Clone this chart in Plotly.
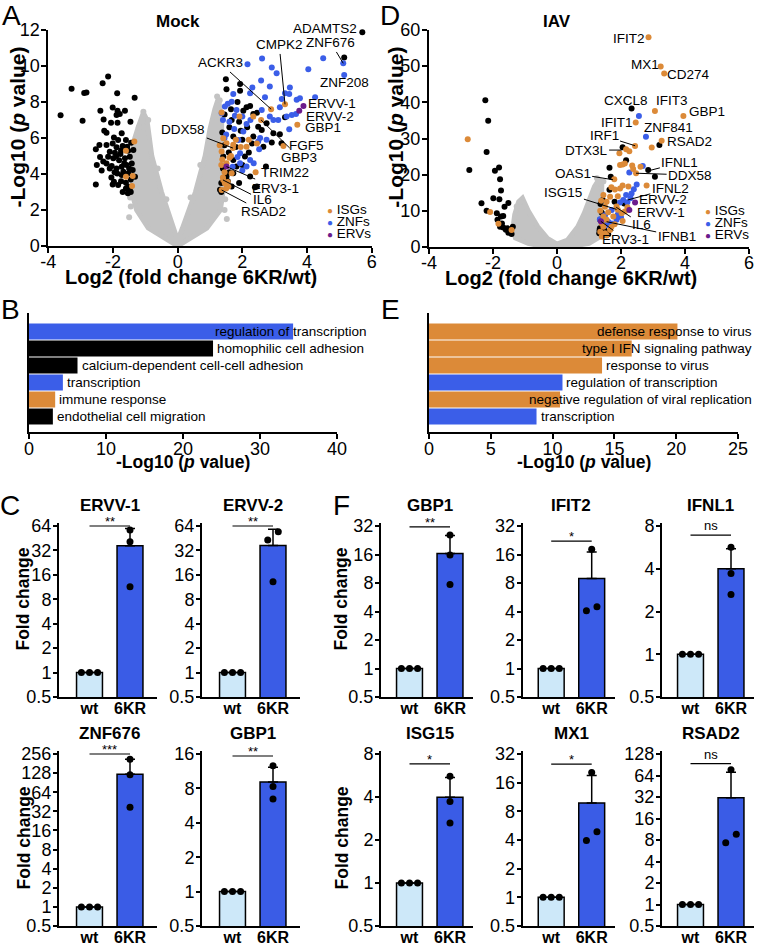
import numpy as np
import plotly.graph_objects as go

W, H = 762, 946
FONT = "Liberation Sans, Arial, Helvetica, sans-serif"
ORANGE = "#dc8a38"
BLUE = "#3b5ee8"
PURPLE = "#6b1b8c"
GRAY = "#c3c3c3"
WT_FILL = "#cde8f9"
KR_FILL = "#3a5ce6"

# ---------- A: volcano plot, Mock ----------
mock_black = [
    (-2.15, 9.41), (-2.32, 9.04), (-3.28, 8.74), (-2.89, 8.50), (-2.82, 8.53), (-1.87, 8.48), (-1.33, 8.24),
    (-3.62, 7.27), (-2.94, 6.96), (-2.39, 7.52), (-2.01, 7.70), (-1.86, 7.52), (-1.79, 7.33), (-1.63, 7.52),
    (-1.89, 7.28), (-2.29, 7.03), (-2.06, 6.85), (-1.86, 6.85), (-1.46, 6.90), (-2.27, 6.40), (-2.20, 6.29),
    (-1.73, 6.26), (-1.97, 6.03), (-1.84, 5.89), (-1.60, 5.89), (-1.44, 5.74), (-2.53, 5.37), (-2.42, 5.61),
    (-2.20, 5.61), (-2.01, 5.70), (-1.89, 5.48), (-1.70, 5.55), (-1.56, 5.52), (-2.10, 5.24), (-1.94, 5.18),
    (-1.77, 5.11), (-1.53, 5.29), (-1.37, 5.33), (-2.15, 4.96), (-1.99, 4.87), (-1.81, 4.77), (-1.63, 4.87),
    (-1.48, 4.96), (-2.20, 4.59), (-2.04, 4.44), (-1.89, 4.31), (-1.73, 4.40), (-1.58, 4.50), (-1.42, 4.59),
    (-1.87, 4.03), (-1.68, 4.13), (-1.53, 4.03), (-1.39, 4.22), (-1.97, 3.57), (-1.84, 3.39), (-2.53, 3.42),
    (-1.60, 3.52), (-1.48, 3.07), (-1.53, 3.29), (-1.73, 3.94), (-1.32, 3.85), (-2.30, 4.70), (-2.10, 4.30),
    (-1.95, 4.10), (-1.65, 4.60), (-1.50, 4.30), (-1.45, 3.70), (-1.75, 3.60), (-2.35, 4.20), (-1.90, 5.00),
    (-1.75, 5.30), (-2.05, 3.80), (-1.60, 3.20), (-1.70, 3.00), (-1.45, 3.00), (-2.50, 4.50), (-2.40, 4.95),
    (-2.01, 3.41), (-1.54, 2.93),
    (5.71, 11.87), (5.15, 10.47), (1.49, 9.26), (1.93, 9.00), (3.32, 7.15), (2.91, 5.75), (3.16, 6.21),
    (2.73, 4.41), (1.93, 8.63), (1.51, 8.71), (2.13, 7.71), (2.03, 7.52), (1.67, 7.00), (2.24, 7.78),
    (2.34, 7.34), (2.49, 6.63), (2.60, 6.45), (2.75, 6.82), (2.65, 5.52), (2.34, 6.08), (2.08, 4.97),
    (1.72, 4.78), (1.41, 4.97), (1.72, 6.08), (1.82, 4.41), (1.51, 3.86), (1.31, 3.12), (1.72, 4.04),
    (1.67, 3.30), (2.24, 3.86), (2.96, 6.26), (2.39, 3.26), (3.21, 5.71), (2.45, 3.30), (1.35, 3.00),
    (1.55, 3.60), (1.45, 5.60), (1.60, 6.60), (1.80, 5.50), (2.00, 5.90), (2.20, 5.20), (1.90, 6.90),
    (1.38, 6.30), (1.58, 5.20), (1.95, 6.40), (2.15, 6.60), (2.30, 5.70), (1.65, 7.60), (1.45, 7.30),
    (1.85, 8.00), (2.45, 7.40), (1.40, 4.30), (1.60, 4.10), (2.00, 4.50), (1.90, 3.50), (1.35, 3.50),
]
mock_znf = [
    (5.12, 10.15), (5.15, 9.50), (4.50, 10.43), (4.04, 9.82), (4.25, 8.26), (2.61, 10.41), (2.16, 10.10),
    (2.91, 9.91), (3.06, 9.60), (2.58, 9.19), (2.85, 8.86), (2.31, 8.80), (3.47, 8.80), (3.32, 8.49),
    (3.45, 8.45), (3.68, 8.12), (3.78, 8.21), (3.22, 8.17), (2.70, 8.26), (2.24, 8.49), (3.16, 7.71),
    (3.37, 7.19), (3.53, 7.28), (3.66, 7.34), (3.45, 6.48), (3.11, 7.00), (2.85, 7.19), (2.96, 7.00),
    (1.67, 8.02), (1.72, 8.45), (1.46, 7.75), (1.36, 7.37), (1.82, 7.56), (1.77, 7.23), (2.13, 6.78),
    (2.03, 6.36), (2.60, 7.56), (2.52, 5.37), (2.49, 5.80), (2.24, 4.78), (1.93, 4.60), (1.88, 5.89),
    (1.93, 5.15), (2.13, 4.41), (1.55, 7.90), (1.40, 7.00), (1.60, 6.90), (1.75, 6.50), (2.00, 7.20),
    (2.25, 7.00), (1.50, 6.20), (1.85, 4.95), (2.35, 4.60), (2.00, 4.20), (1.70, 4.40), (1.45, 6.00),
    (2.55, 6.00), (2.75, 5.90),
]
mock_isg = [
    (-1.34, 5.81), (-1.60, 5.29), (-1.60, 3.85), (-1.39, 3.89), (-1.41, 3.33),
    (3.32, 7.87), (2.89, 7.60), (3.70, 6.73), (3.27, 5.56), (2.58, 7.00), (2.41, 4.10), (1.36, 7.41),
    (1.91, 7.19), (2.34, 7.19), (2.13, 5.52), (1.51, 4.60), (1.36, 5.25), (1.51, 5.71), (1.41, 5.98),
    (1.72, 5.62), (1.67, 4.04), (1.41, 3.67), (1.46, 3.49), (1.57, 3.30), (1.55, 3.55), (1.36, 3.11),
    (1.71, 5.44), (1.38, 4.80), (1.45, 4.10), (1.60, 4.90), (1.80, 5.90), (1.95, 5.50), (1.40, 3.80),
    (1.50, 3.20), (1.35, 4.50), (2.45, 5.70), (2.20, 5.90), (1.30, 5.60), (1.65, 5.00),
]
mock_erv = [(3.89, 7.78), (3.76, 7.52), (1.51, 4.41)]
mock_cloud_x = [0, -0.44, -0.91, -1.27, -1.42, -1.40, -1.36, -1.22, -1.06, -0.95, -0.80, -0.50, -0.15, 0,
                0.15, 0.55, 0.85, 1.00, 1.15, 1.26, 1.36, 1.36, 1.40, 1.32, 0.90, 0.44, 0]
mock_cloud_y = [0, 0.5, 1.0, 2.0, 3.0, 4.5, 5.8, 6.6, 7.4, 7.0, 5.0, 3.0, 1.0, 0.3,
                1.0, 3.0, 5.0, 6.5, 7.6, 8.2, 7.0, 5.0, 3.0, 2.0, 1.0, 0.5, 0]
mock_gray_dots = [(-1.06, 7.46), (-0.91, 7.0), (-1.2, 6.6), (1.22, 8.3), (1.30, 8.1), (-1.45, 2.2),
                  (1.45, 2.0), (-1.5, 1.6), (1.52, 1.5), (-0.62, 4.3), (-0.35, 2.6), (0.40, 2.7),
                  (0.70, 4.5), (-1.47, 2.7), (1.47, 2.6)]
# gene, text x, text y, point x, point y
mock_labels = [
    ("ADAMTS2", 4.55, 12.1, None, None), ("CMPK2", 3.14, 11.17, 3.32, 7.87),
    ("ZNF676", 4.74, 11.28, 5.12, 10.15), ("ACKR3", 1.31, 10.17, 2.89, 7.60),
    ("ZNF208", 5.17, 9.11, None, None), ("ERVV-1", 4.76, 7.89, None, None),
    ("ERVV-2", 4.70, 7.17, None, None), ("GBP1", 4.48, 6.56, None, None),
    ("DDX58", 0.18, 6.5, 1.71, 5.44), ("FGF5", 3.98, 5.61, None, None),
    ("GBP3", 3.75, 4.94, 2.58, 7.00), ("TRIM22", 3.32, 4.06, None, None),
    ("ERV3-1", 3.04, 3.22, 1.51, 4.41), ("IL6", 2.61, 2.56, 1.40, 3.67),
    ("RSAD2", 2.65, 1.89, 1.36, 3.11),
]

# ---------- D: volcano plot, IAV ----------
iav_black = [
    (-2.24, 40.6), (-2.15, 34.9), (-2.20, 26.3), (-2.74, 21.3), (-1.94, 21.1), (-1.81, 22.0), (-1.78, 18.7),
    (-1.75, 15.6), (-1.99, 13.5), (-1.80, 13.2), (-2.36, 12.1), (-1.52, 12.2), (-1.64, 11.1), (-2.20, 10.0),
    (-1.88, 9.3), (-1.75, 8.4), (-1.68, 8.6), (-1.86, 7.5), (-1.78, 5.6), (-1.68, 5.4), (-1.55, 5.2),
    (-1.47, 4.5), (-1.38, 5.6), (-1.52, 3.96), (-1.42, 3.6), (-1.60, 4.8), (-1.72, 6.5),
    (2.33, 38.3), (3.20, 28.2), (2.05, 27.6), (2.16, 24.0), (1.64, 21.9), (2.85, 21.3), (3.06, 19.4),
    (1.68, 19.4), (1.64, 15.8), (1.43, 13.0), (1.36, 11.9), (1.34, 5.2), (1.32, 3.8), (1.40, 9.5),
    (1.50, 4.5), (1.35, 7.5), (1.80, 12.5), (2.10, 12.0), (1.33, 4.6), (1.60, 3.5),
]
iav_znf = [
    (2.56, 36.2), (2.78, 30.5), (2.68, 22.4), (2.26, 20.6), (2.49, 17.3), (2.33, 14.8), (2.16, 14.4),
    (2.07, 13.0), (1.97, 12.3), (1.71, 10.2), (1.34, 7.65), (1.86, 7.5), (1.71, 6.5), (1.55, 6.1),
    (2.20, 12.4), (1.90, 9.0), (2.00, 8.2), (1.50, 8.8), (1.45, 6.8), (2.30, 13.5), (2.40, 16.0), (1.60, 7.0),
]
iav_isg = [
    (-2.79, 29.8), (-2.09, 9.7), (-1.83, 6.4), (-1.42, 4.7),
    (2.86, 57.97), (3.24, 49.9), (3.35, 48.0), (3.06, 37.6), (3.95, 36.2), (2.46, 34.4), (3.27, 29.4),
    (2.96, 27.5), (2.44, 27.9), (2.16, 27.0), (2.26, 26.5), (1.95, 25.9), (2.12, 23.1), (1.97, 22.7),
    (2.38, 21.6), (2.61, 22.2), (2.47, 20.4), (1.79, 18.7), (2.80, 17.0), (2.23, 16.7), (1.97, 16.2),
    (1.81, 15.9), (1.66, 13.9), (1.45, 14.4), (1.55, 12.5), (1.86, 11.2), (1.50, 11.1), (1.45, 8.4),
    (1.55, 7.5), (1.76, 8.4), (2.02, 9.3), (2.12, 9.8), (1.45, 5.6), (1.50, 3.8), (1.40, 2.9),
    (1.66, 4.7), (1.35, 10.0), (1.60, 9.6), (1.90, 10.3), (2.20, 11.0), (1.40, 6.5), (1.70, 5.5),
    (1.55, 3.2), (1.35, 4.2), (1.80, 6.3), (2.05, 7.2), (1.38, 12.8), (1.90, 14.0), (2.05, 17.0),
    (1.70, 16.5), (2.35, 22.5), (2.05, 22.8),
]
iav_erv = [(2.44, 12.3), (2.26, 10.2), (1.37, 7.1)]
iav_cloud_x = [0, -0.5, -0.9, -1.3, -1.38, -1.32, -1.2, -1.08, -0.9, -0.6, -0.3, 0,
               0.33, 0.65, 0.85, 1.01, 1.17, 1.32, 1.40, 1.38, 1.38, 1.0, 0.5, 0]
iav_cloud_y = [0, 0.3, 1.0, 2.5, 5.0, 9.0, 12.5, 13.5, 10.0, 5.6, 2.4, 0.8,
               1.9, 5.6, 9.3, 13.0, 16.7, 18.8, 17.0, 10.0, 3.0, 1.0, 0.3, 0]
iav_gray_dots = [(-1.15, 12.5), (-1.26, 11.2), (1.34, 17.6), (1.45, 18.1), (1.25, 19.0)]
iav_labels = [
    ("IFIT2", 2.25, 57.7, None, None), ("MX1", 2.75, 50.5, None, None), ("CD274", 4.12, 47.8, None, None),
    ("CXCL8", 2.15, 40.6, None, None), ("IFIT3", 3.59, 40.6, None, None), ("GBP1", 4.68, 37.4, None, None),
    ("IFIT1", 1.88, 34.4, None, None), ("ZNF841", 3.48, 33.0, None, None), ("RSAD2", 4.14, 29.3, None, None),
    ("IRF1", 1.47, 30.7, 2.44, 28.0), ("DTX3L", 0.91, 26.8, 2.02, 26.8), ("IFNL1", 3.84, 23.3, 2.87, 21.1),
    ("DDX58", 4.16, 19.9, 2.47, 20.4), ("OAS1", 0.49, 20.4, 1.75, 18.6), ("IFNL2", 3.54, 16.2, 2.21, 13.0),
    ("ISG15", 0.20, 15.0, 1.86, 10.4), ("ERVV-2", 3.30, 13.0, None, None), ("ERVV-1", 3.26, 9.5, None, None),
    ("IL6", 2.65, 6.3, 1.85, 11.0), ("IFNB1", 3.74, 3.0, 1.55, 7.0), ("ERV3-1", 2.15, 2.1, 1.37, 7.1),
]
legend_names = ["ISGs", "ZNFs", "ERVs"]

# ---------- B / E: GO terms ----------
go_mock_terms = ["regulation of transcription", "homophilic cell adhesion",
                 "calcium-dependent cell-cell adhesion", "transcription",
                 "immune response", "endothelial cell migration"]
go_mock_vals = [34.3, 23.9, 6.3, 4.4, 3.4, 3.1]
go_mock_class = ["ZNF", "other", "other", "ZNF", "ISG", "other"]
go_iav_terms = ["defense response to virus", "type I IFN signaling pathway", "response to virus",
                "regulation of transcription", "negative regulation of viral replication", "transcription"]
go_iav_vals = [20.1, 16.4, 14.0, 10.8, 10.6, 8.7]
go_iav_class = ["ISG", "ISG", "ISG", "ZNF", "ISG", "ZNF"]

# ---------- C / F: qPCR fold change (wt = 1) ----------
c_genes = ["ERVV-1", "ERVV-2", "ZNF676", "GBP1"]
c_kr = [[57, 41, 11.4], [54.5, 43, 13.2], [212, 121, 37], [12.6, 8.3, 6.45]]
c_top = [64, 64, 256, 16]
c_sig = ["**", "**", "***", "**"]
f_genes = ["GBP1", "IFIT2", "IFNL1", "ISG15", "MX1", "RSAD2"]
f_kr = [[25.7, 15.8, 7.7], [18.2, 4.5, 4.08], [5.66, 3.71, 2.64],
        [5.6, 3.72, 2.63], [20.5, 4.88, 3.96], [77, 9.6, 7.3]]
f_top = [32, 32, 8, 8, 32, 128]
f_sig = ["**", "*", "ns", "*", "*", "ns"]
wt_vals = [1, 1, 1]

class_color = {"ZNF": BLUE, "ISG": ORANGE, "other": "black"}


def xdom(left, right):
    return [left / W, right / W]


def ydom(top, bottom):
    return [1 - bottom / H, 1 - top / H]


fig = go.Figure()
ann = []
layout = {}

axis_base = dict(showline=True, linecolor="black", linewidth=2, ticks="outside", ticklen=5,
                 tickwidth=2, tickcolor="black", showgrid=False, zeroline=False, automargin=False,
                 tickfont=dict(size=18, family=FONT, color="black"))


def dots(pts, color, n, size=6):
    xs, ys = zip(*pts)
    fig.add_trace(go.Scatter(x=xs, y=ys, mode="markers", marker=dict(color=color, size=size, line=dict(width=0)),
                             xaxis=f"x{n}", yaxis=f"y{n}", cliponaxis=False, hoverinfo="skip"))


def volcano(n, cx, cy, gray_dots, black, znf, isg, erv, labels, title, xd, yd, ymax, ydt, xt_pos, yt_shift):
    xs = "x" if n == 1 else f"x{n}"
    ys = "y" if n == 1 else f"y{n}"
    k = "" if n == 1 else n
    fig.add_trace(go.Scatter(x=cx, y=cy, mode="lines", fill="toself", fillcolor=GRAY,
                             line=dict(color=GRAY, width=5), xaxis=xs, yaxis=ys, hoverinfo="skip"))
    dots(gray_dots, GRAY, k)
    dots(black, "black", k)
    dots(znf, BLUE, k)
    dots(isg, ORANGE, k)
    dots(erv, PURPLE, k)
    key = "" if n == 1 else str(n)
    xt = [-4, -2, 0, 2, 4, 6]
    yt = list(range(0, ymax + 1, ydt))
    layout["xaxis" + key] = dict(axis_base, domain=xd, range=[-4, 6], tickvals=xt, ticktext=[str(v) for v in xt],
                                 anchor=ys, ticklabelstandoff=-7)
    layout["yaxis" + key] = dict(axis_base, domain=yd, range=[0, ymax], tickvals=yt, ticklabelstandoff=-2,
                                 ticktext=[str(v) for v in yt], anchor=xs)
    for name, tx, ty, px, py in labels:
        if px is None:
            ann.append(dict(xref=xs + " domain", yref=ys + " domain", x=(tx + 4) / 10, y=ty / ymax,
                            xanchor="center", yanchor="middle", text=name, showarrow=False,
                            font=dict(size=13.5)))
        else:
            ann.append(dict(xref=xs, yref=ys, x=px, y=py, ax=tx, ay=ty, axref=xs, ayref=ys, text=name,
                            showarrow=True, arrowhead=0, arrowwidth=1, arrowcolor="black", standoff=0,
                            font=dict(size=13.5)))
    ann.append(dict(xref=xs, yref=ys + " domain", x=0, y=1, xanchor="center", yanchor="bottom", yshift=-3,
                    text=f"<b>{title}</b>", showarrow=False, font=dict(size=17)))
    ann.append(dict(xref=xs + " domain", yref=ys + " domain", x=xt_pos, y=0, xanchor="center", yanchor="top",
                    yshift=-18, text="<b>Log2 (fold change 6KR/wt)</b>", showarrow=False, font=dict(size=20)))
    ann.append(dict(xref=xs + " domain", yref=ys + " domain", x=0, y=0.55, xshift=-yt_shift, textangle=-90,
                    xanchor="center", yanchor="middle",
                    text="<b>-Log10 (<i>p</i> value)</b>", showarrow=False, font=dict(size=21)))
    for i, (nm, col) in enumerate(zip(legend_names, [ORANGE, BLUE, PURPLE])):
        ann.append(dict(xref=xs + " domain", yref=ys + " domain", x=0.855, y=0.167 - i * 0.055,
                        xanchor="left", yanchor="middle",
                        text=f'<span style="color:{col};font-size:10px">●</span> {nm}',
                        showarrow=False, font=dict(size=13.5)))


volcano(1, mock_cloud_x, mock_cloud_y, mock_gray_dots, mock_black, mock_znf, mock_isg, mock_erv, mock_labels,
        "Mock", xdom(48.3, 371.7), ydom(30, 246), 12, 2, 0.441, 31)
volcano(2, iav_cloud_x, iav_cloud_y, iav_gray_dots, iav_black, iav_znf, iav_isg, iav_erv, iav_labels,
        "IAV", xdom(429, 749), ydom(30, 247), 60, 10, 0.445, 33)


def go_bars(n, terms, vals, classes, xd, xmax, dt, limit):
    xs, ys = f"x{n}", f"y{n}"
    idx = list(range(len(terms)))
    fig.add_trace(go.Bar(x=vals, y=idx, orientation="h", width=0.94,
                         marker=dict(color=[class_color[c] for c in classes], line=dict(width=0)),
                         xaxis=xs, yaxis=ys, hoverinfo="skip"))
    px_unit = (xd[1] - xd[0]) * W / xmax
    for i, (t, v) in enumerate(zip(terms, vals)):
        end_px = v * px_unit + 4 + len(t) * 6.2
        if end_px > limit * px_unit:
            ann.append(dict(xref=xs + " domain", yref=ys, x=limit / xmax, y=i, xanchor="right",
                            yanchor="middle", text=t, showarrow=False, font=dict(size=13.5)))
        else:
            ann.append(dict(xref=xs, yref=ys, x=v, y=i, xanchor="left", yanchor="middle", xshift=2, text=t,
                            showarrow=False, font=dict(size=13.5)))
    layout[f"xaxis{n}"] = dict(axis_base, domain=xd, range=[0, xmax], dtick=dt, anchor=ys, ticklabelstandoff=-6)
    layout[f"yaxis{n}"] = dict(showline=True, linecolor="black", linewidth=2, showgrid=False, zeroline=False,
                               showticklabels=False, ticks="", domain=ydom(313, 432), automargin=False,
                               range=[5.912, -1.088], anchor=xs)
    ann.append(dict(xref=xs + " domain", yref=ys + " domain", x=0.5, y=0, xanchor="center", yanchor="top",
                    yshift=-18, text="<b>-Log10 (<i>p</i> value)</b>", showarrow=False, font=dict(size=17.5)))


go_bars(3, go_mock_terms, go_mock_vals, go_mock_class, xdom(29, 337), 40, 10, 44.2)
go_bars(4, go_iav_terms, go_iav_vals, go_iav_class, xdom(429, 738), 25, 5, 26.3)


def fold_plot(n, gene, kr, top, sig, left, width, wt_off, top_px, bottom_px, ytitle, ytitle_shift, ytitle_y):
    xs, ys = f"x{n}", f"y{n}"
    means = [np.mean(wt_vals), np.mean(kr)]
    sds = [0, np.std(kr, ddof=1)]
    fig.add_trace(go.Bar(x=[0, 1], y=means, width=0.64,
                         marker=dict(color=[WT_FILL, KR_FILL], line=dict(color="black", width=1.5)),
                         error_y=dict(type="data", symmetric=False, array=sds, arrayminus=[0, 0],
                                      color="black", thickness=1.5, width=5),
                         xaxis=xs, yaxis=ys, hoverinfo="skip"))
    # spread near-identical dots sideways like a scatter dot plot
    span = np.log2(top) + 1
    px_per = (bottom_px - top_px) / span
    offs = [0.0, 0.0, 0.0]
    order = np.argsort(kr)
    for a, b in zip(order[:-1], order[1:]):
        if abs(np.log2(kr[b]) - np.log2(kr[a])) * px_per < 10:
            offs[a], offs[b] = -0.13, 0.13
    fig.add_trace(go.Scatter(x=[-0.2, 0, 0.2] + [1 + o for o in offs], y=wt_vals + list(kr), mode="markers",
                             marker=dict(color="black", size=7), xaxis=xs, yaxis=ys, cliponaxis=False,
                             hoverinfo="skip"))
    h = min(max(max(kr), means[1] + sds[1]) * 1.22, top)
    fig.add_trace(go.Scatter(x=[0, 1], y=[h, h], mode="lines", line=dict(color="black", width=1.2),
                             xaxis=xs, yaxis=ys, hoverinfo="skip"))
    ann.append(dict(xref=xs, yref=ys, x=0.5, y=np.log10(h), xanchor="center", yanchor="bottom",
                    yshift=0 if sig == "ns" else -5, text=sig, showarrow=False, font=dict(size=13)))
    ann.append(dict(xref=xs, yref=ys + " domain", x=0.5, y=1, xanchor="center", yanchor="bottom", yshift=6,
                    text=f"<b>{gene}</b>", showarrow=False, font=dict(size=17)))
    if ytitle:
        ann.append(dict(xref=xs + " domain", yref=ys + " domain", x=0, y=ytitle_y, xshift=-ytitle_shift,
                        xanchor="center", yanchor="middle", textangle=-90, text="<b>Fold change</b>",
                        showarrow=False, font=dict(size=17.5)))
    tv = [0.5 * 2 ** k for k in range(int(span) + 1)]
    decades = np.log10(top) - np.log10(0.5)
    extra = 3 / ((bottom_px - top_px) / decades)
    layout[f"xaxis{n}"] = dict(showline=True, linecolor="black", linewidth=2, ticks="", showgrid=False,
                               zeroline=False, automargin=False, domain=xdom(left, left + width),
                               range=[-wt_off / 40.5, (width - wt_off) / 40.5], tickvals=[0, 1],
                               ticktext=["<b>wt</b>", "<b>6KR</b>"], anchor=ys, ticklabelstandoff=-4,
                               tickfont=dict(size=16, family=FONT, color="black"))
    layout[f"yaxis{n}"] = dict(axis_base, type="log", domain=ydom(top_px - 3, bottom_px), ticklen=4,
                               ticklabelstandoff=-2,
                               range=[np.log10(0.5), np.log10(top) + extra], tickvals=tv,
                               ticktext=[("%g" % v) for v in tv], anchor=xs)


c_left = [59, 202, 59, 202]
c_rows = [(526, 697), (526, 697), (754, 926), (754, 926)]
for i in range(4):
    fold_plot(5 + i, c_genes[i], c_kr[i], c_top[i], c_sig[i], c_left[i], 98, 30.5,
              c_rows[i][0], c_rows[i][1], i % 2 == 0, 36, 0.56 if i < 2 else 0.5)

f_left = [381, 522.7, 662, 381, 522.7, 662]
f_rows = [(526, 697)] * 3 + [(754, 926)] * 3
for i in range(6):
    fold_plot(9 + i, f_genes[i], f_kr[i], f_top[i], f_sig[i], f_left[i], 92, 28.5,
              f_rows[i][0], f_rows[i][1], i % 3 == 0, 40, 0.56 if i < 3 else 0.5)

# panel letters
for letter, px, py in [("A", 11.5, 16), ("D", 390, 16), ("B", 10, 309), ("E", 390, 310),
                       ("C", 10, 505), ("F", 341, 506)]:
    ann.append(dict(xref="paper", yref="paper", x=px / W, y=1 - py / H, xanchor="center", yanchor="middle",
                    text=letter, showarrow=False, font=dict(size=28)))

fig.update_layout(**layout)
fig.update_layout(width=W, height=H, margin=dict(l=0, r=0, t=0, b=0), showlegend=False,
                  plot_bgcolor="white", paper_bgcolor="white",
                  font=dict(family=FONT, color="black"), annotations=ann)
fig.write_html("out.html", config={"displayModeBar": False},
               post_script="document.body.style.margin='0';")
